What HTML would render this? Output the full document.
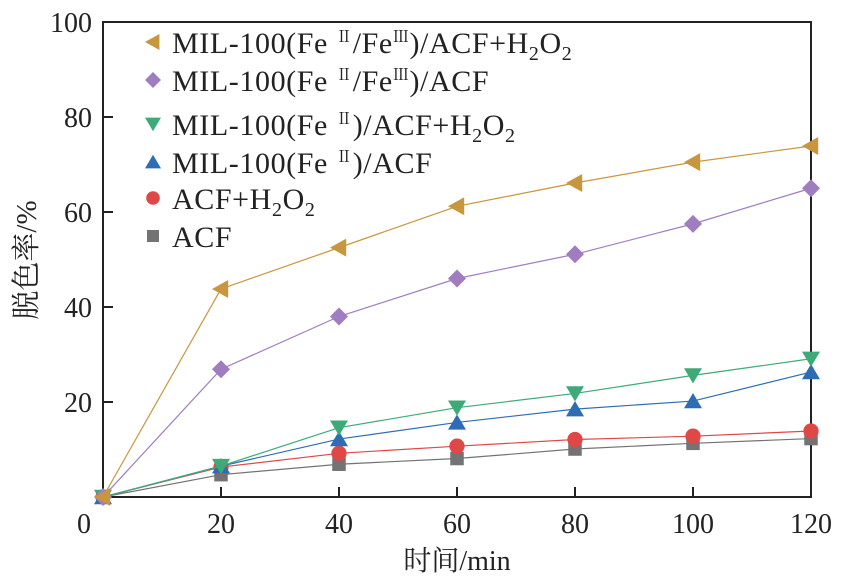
<!DOCTYPE html>
<html><head><meta charset="utf-8"><style>
body{margin:0;background:#fff;}
svg text{font-family:"Liberation Serif","Noto Serif CJK SC",serif;fill:#222;}
</style></head><body>
<svg id="c" width="843" height="582" xmlns="http://www.w3.org/2000/svg"></svg>
<script>
const categories=[0,20,40,60,80,100,120];
const sFeMixH2O2=[0,43.8,52.5,61.2,66.1,70.5,73.9];
const sFeMix=[0,26.9,38.0,46.0,51.1,57.5,65.0];
const sFe2H2O2=[0,6.5,14.6,18.8,21.8,25.6,29.1];
const sFe2=[0,6.5,12.2,15.7,18.5,20.2,26.3];
const sAcfH2O2=[0,6.3,9.2,10.7,12.1,12.8,13.9];
const sAcf=[0,4.7,6.9,8.1,10.1,11.3,12.3];
const xTicks=[0,20,40,60,80,100,120];
const yTicks=[20,40,60,80,100];
const X0=103,X1=811,Y0=497,Y1=22;
const xs=v=>X0+(v/120)*(X1-X0);
const ys=v=>Y0-(v/100)*(Y0-Y1);
const svg=document.getElementById('c');
const NS='http://www.w3.org/2000/svg';
function mk(t,a,p){const e=document.createElementNS(NS,t);for(const k in a)e.setAttribute(k,a[k]);(p||svg).appendChild(e);return e;}
const fr=mk('rect',{x:X0,y:Y1,width:X1-X0,height:Y0-Y1,fill:'none',stroke:'#222','stroke-width':2});


xTicks.forEach(v=>{
 const l=mk('line',{x1:xs(v),x2:xs(v),y1:Y0,y2:Y0-10,stroke:'#222','stroke-width':2});
 
 
 const t=mk('text',{x:v===0?84:xs(v),y:533,'font-size':28,'text-anchor':'middle'});t.textContent=v;
 
 
});
yTicks.forEach(v=>{
 const l=mk('line',{x1:X0,x2:X0+10,y1:ys(v),y2:ys(v),stroke:'#222','stroke-width':2});
 
 
 const t=mk('text',{x:92,y:ys(v)+10,'font-size':28,'text-anchor':'end'});t.textContent=v;
 
 
});
const xt=mk('text',{x:457,y:570,'font-size':28,'text-anchor':'middle'});xt.textContent='时间/min';


const yt=mk('text',{x:0,y:0,'font-size':29,'text-anchor':'middle',transform:'translate(36,260) rotate(-90)'});yt.textContent='脱色率/%';


function marker(shape,x,y,c,s){
 let e;
 if(shape==='left')e=mk('polygon',{points:`${x-s},${y} ${x+s*0.8},${y-s} ${x+s*0.8},${y+s}`,fill:c});
 else if(shape==='diamond')e=mk('polygon',{points:`${x},${y-s} ${x+s},${y} ${x},${y+s} ${x-s},${y}`,fill:c});
 else if(shape==='down')e=mk('polygon',{points:`${x-s},${y-s*0.8} ${x+s},${y-s*0.8} ${x},${y+s*0.9}`,fill:c});
 else if(shape==='up')e=mk('polygon',{points:`${x-s},${y+s*0.8} ${x+s},${y+s*0.8} ${x},${y-s*0.9}`,fill:c});
 else if(shape==='circle')e=mk('circle',{cx:x,cy:y,r:s*0.85,fill:c});
 else e=mk('rect',{x:x-s*0.75,y:y-s*0.75,width:s*1.5,height:s*1.5,fill:c});
 return e;
}
const series=[
 {d:sAcf,c:'#737373',m:'square',n:'acf'},
 {d:sAcfH2O2,c:'#e04848',m:'circle',n:'acf-h2o2'},
 {d:sFe2,c:'#2e6db4',m:'up',n:'mil100-fe2-acf'},
 {d:sFe2H2O2,c:'#3daa78',m:'down',n:'mil100-fe2-acf-h2o2'},
 {d:sFeMix,c:'#a07cc0',m:'diamond',n:'mil100-fe2fe3-acf'},
 {d:sFeMixH2O2,c:'#c8963c',m:'left',n:'mil100-fe2fe3-acf-h2o2'}
];
series.forEach(s=>{
 const pl=mk('polyline',{points:s.d.map((v,i)=>xs(categories[i])+','+ys(v)).join(' '),fill:'none',stroke:s.c,'stroke-width':1.2});
 
 
 s.d.forEach((v,i)=>{
  const m=marker(s.m,xs(categories[i]),ys(v),s.c,9);
  
  
 });
});
const SUP='<tspan font-size="16" dy="-11">',SUB='<tspan font-size="20" dy="7">';
const leg=[
 {m:'left',c:'#c8963c',y:42,h:'MIL-100(Fe '+SUP+'Ⅱ</tspan><tspan dy="11">/Fe</tspan>'+SUP+'Ⅲ</tspan><tspan dy="11">)/ACF+H</tspan>'+SUB+'2</tspan><tspan dy="-7">O</tspan>'+SUB+'2</tspan>'},
 {m:'diamond',c:'#a07cc0',y:80,h:'MIL-100(Fe '+SUP+'Ⅱ</tspan><tspan dy="11">/Fe</tspan>'+SUP+'Ⅲ</tspan><tspan dy="11">)/ACF</tspan>'},
 {m:'down',c:'#3daa78',y:124,h:'MIL-100(Fe '+SUP+'Ⅱ</tspan><tspan dy="11">)/ACF+H</tspan>'+SUB+'2</tspan><tspan dy="-7">O</tspan>'+SUB+'2</tspan>'},
 {m:'up',c:'#2e6db4',y:162,h:'MIL-100(Fe '+SUP+'Ⅱ</tspan><tspan dy="11">)/ACF</tspan>'},
 {m:'circle',c:'#e04848',y:198,h:'ACF+H'+SUB+'2</tspan><tspan dy="-7">O</tspan>'+SUB+'2</tspan>'},
 {m:'square',c:'#737373',y:236,h:'ACF'}
];
leg.forEach(l=>{
 const g=mk('g',{});
 
 
 marker(l.m,153,l.y,l.c,8);
 const t=mk('text',{x:172,y:l.y+11,'font-size':30,'letter-spacing':0.6},g);t.innerHTML=l.h;
 
 
});
</script>
</body></html>
